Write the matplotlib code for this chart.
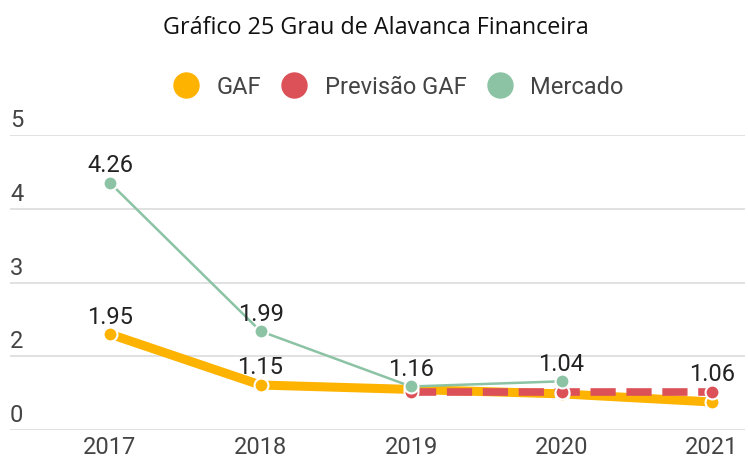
import numpy as np
import matplotlib.pyplot as plt
from matplotlib.lines import Line2D

# --- data ---
years = [2017, 2018, 2019, 2020, 2021]
# plotted heights, in the chart's own (uneven) axis units
gaf = [2.30, 1.61, 1.55, 1.49, 1.38]
previsao = [np.nan, np.nan, 1.52, 1.52, 1.52]
mercado = [4.35, 2.34, 1.59, 1.66, np.nan]
# value labels printed on the chart
gaf_labels = ['1.95', '1.15', '', '', '']
previsao_labels = ['', '', '', '', '1.06']
mercado_labels = ['4.26', '1.99', '1.16', '1.04', '']
ytick_pos = [1, 2, 3, 4, 5]
ytick_labels = ['0', '2', '3', '4', '5']

C_GAF = '#FDB300'
C_PREV = '#DB5157'
C_MERC = '#8BC3A4'
TXT = '#444444'
FS = 17

plt.rcParams['font.family'] = ['Roboto', 'DejaVu Sans']

fig = plt.figure(figsize=(7.48, 4.63), dpi=100)
W, H = 748, 463
ax = fig.add_axes([10 / W, (H - 430) / H, 735 / W, 295 / H])

x0 = years[0] - 100 / 150.5
x1 = years[-1] + 33 / 150.5
ax.set_xlim(x0, x1)
ax.set_ylim(1, 5)

for s in ax.spines.values():
    s.set_visible(False)
ax.set_yticks([])
ax.set_xticks(years)
ax.set_xticklabels([str(y) for y in years], fontsize=FS, color=TXT)
ax.tick_params(axis='x', length=0, pad=4)

for p, lab in zip(ytick_pos, ytick_labels):
    ax.axhline(p, color='#dcdcdc', lw=1.2, zorder=0)
    ax.annotate(lab, (0, p), xycoords=('axes fraction', 'data'),
                xytext=(0, 2), textcoords='offset points',
                ha='left', va='bottom', fontsize=FS, color=TXT)

mk = dict(marker='o', markersize=10, markeredgecolor='white', markeredgewidth=1.5)

ax.plot(years, gaf, color=C_GAF, lw=6.5, solid_capstyle='butt', zorder=2)
ax.plot(years, previsao, color=C_PREV, lw=5.5, dashes=(3.3, 1.4),
        dash_capstyle='butt', zorder=3)
ax.plot(years, mercado, color=C_MERC, lw=1.8, zorder=4)

ax.plot(years, gaf, color=C_GAF, lw=0, zorder=5, **mk)
ax.plot(years, previsao, color=C_PREV, lw=0, zorder=6, **mk)
ax.plot(years, mercado, color=C_MERC, lw=0, zorder=7, **mk)

for vals, labs in [(gaf, gaf_labels), (previsao, previsao_labels), (mercado, mercado_labels)]:
    for x, v, t in zip(years, vals, labs):
        if t:
            ax.annotate(t, (x, v), xytext=(0, 4), textcoords='offset points',
                        ha='center', va='bottom', fontsize=FS, color='#222222',
                        zorder=8)

fig.text(0.503, (H - 28) / H, 'Gráfico 25 Grau de Alavanca Financeira',
         ha='center', va='center', fontsize=16.8, color='#111111',
         family=['Open Sans', 'DejaVu Sans'])

handles = [Line2D([], [], ls='', marker='o', markersize=18, color=c)
           for c in (C_GAF, C_PREV, C_MERC)]
fig.legend(handles, ['GAF', 'Previsão GAF', 'Mercado'], loc='center',
           bbox_to_anchor=(399 / W, (H - 87) / H), ncol=3, frameon=False,
           fontsize=FS, labelcolor=TXT, handlelength=1.0, handletextpad=0.8,
           columnspacing=0.9)

fig.savefig('out.png', dpi=100)
